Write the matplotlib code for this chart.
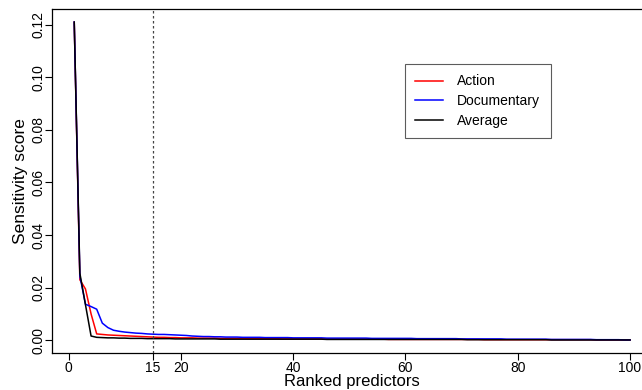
import numpy as np
import matplotlib
matplotlib.use("Agg")
import matplotlib.pyplot as plt

plt.rcParams['font.family'] = ['Liberation Sans', 'DejaVu Sans']

# sensitivity scores of the 100 ranked predictors
rank = list(range(1, 101))
action = [0.121, 0.023, 0.0195, 0.0100, 0.0024, 0.0022, 0.0020, 0.0019, 0.0018, 0.0017,
          0.0016, 0.0015, 0.0014, 0.0013, 0.0012, 0.0011, 0.0011, 0.0010, 0.0010, 0.0009,
          0.0009, 0.0009, 0.0008, 0.0008, 0.0008, 0.0008, 0.0007, 0.0007, 0.0007, 0.0007,
          0.0007, 0.0006, 0.0006, 0.0006, 0.0006, 0.0006, 0.0006, 0.0005, 0.0005, 0.0005,
          0.0005, 0.0005, 0.0005, 0.0005, 0.0005, 0.0004, 0.0004, 0.0004, 0.0004, 0.0004,
          0.0004, 0.0004, 0.0004, 0.0004, 0.0004, 0.0004, 0.0003, 0.0003, 0.0003, 0.0003,
          0.0003, 0.0003, 0.0003, 0.0003, 0.0003, 0.0003, 0.0003, 0.0003, 0.0003, 0.0003,
          0.0003, 0.0003, 0.0003, 0.0002, 0.0002, 0.0002, 0.0002, 0.0002, 0.0002, 0.0002,
          0.0002, 0.0002, 0.0002, 0.0002, 0.0002, 0.0002, 0.0002, 0.0002, 0.0002, 0.0002,
          0.0002, 0.0002, 0.0002, 0.0001, 0.0001, 0.0001, 0.0001, 0.0001, 0.0001, 0.0001]
documentary = [0.121, 0.0245, 0.0137, 0.0128, 0.0118, 0.0065, 0.0048, 0.0038, 0.0034, 0.0031,
               0.0029, 0.0027, 0.0026, 0.0024, 0.0023, 0.0022, 0.0022, 0.0021, 0.0020, 0.0019,
               0.0018, 0.0016, 0.0015, 0.0014, 0.0014, 0.0013, 0.0013, 0.0012, 0.0012, 0.0012,
               0.0011, 0.0011, 0.0011, 0.0011, 0.0010, 0.0010, 0.0010, 0.0010, 0.0010, 0.0009,
               0.0009, 0.0009, 0.0009, 0.0009, 0.0009, 0.0008, 0.0008, 0.0008, 0.0008, 0.0008,
               0.0008, 0.0008, 0.0008, 0.0007, 0.0007, 0.0007, 0.0007, 0.0007, 0.0007, 0.0007,
               0.0007, 0.0006, 0.0006, 0.0006, 0.0006, 0.0006, 0.0006, 0.0006, 0.0006, 0.0005,
               0.0005, 0.0005, 0.0005, 0.0005, 0.0005, 0.0005, 0.0005, 0.0004, 0.0004, 0.0004,
               0.0004, 0.0004, 0.0004, 0.0004, 0.0004, 0.0003, 0.0003, 0.0003, 0.0003, 0.0003,
               0.0003, 0.0003, 0.0003, 0.0002, 0.0002, 0.0002, 0.0002, 0.0002, 0.0001, 0.0001]
average = [0.121, 0.0255, 0.0135, 0.0016, 0.0011, 0.0010, 0.0009, 0.0009, 0.0008, 0.0008,
           0.0007, 0.0007, 0.0007, 0.0006, 0.0006, 0.0006, 0.0006, 0.0006, 0.0005, 0.0005,
           0.0005, 0.0005, 0.0005, 0.0005, 0.0005, 0.0005, 0.0004, 0.0004, 0.0004, 0.0004,
           0.0004, 0.0004, 0.0004, 0.0004, 0.0004, 0.0004, 0.0004, 0.0004, 0.0004, 0.0004,
           0.0004, 0.0004, 0.0004, 0.0004, 0.0004, 0.0003, 0.0003, 0.0003, 0.0003, 0.0003,
           0.0003, 0.0003, 0.0003, 0.0003, 0.0003, 0.0003, 0.0003, 0.0003, 0.0003, 0.0003,
           0.0003, 0.0003, 0.0003, 0.0003, 0.0003, 0.0003, 0.0003, 0.0003, 0.0003, 0.0003,
           0.0002, 0.0002, 0.0002, 0.0002, 0.0002, 0.0002, 0.0002, 0.0002, 0.0002, 0.0002,
           0.0002, 0.0002, 0.0002, 0.0002, 0.0002, 0.0001, 0.0001, 0.0001, 0.0001, 0.0001,
           0.0001, 0.0001, 0.0001, 0.0001, 0.0001, 0.0001, 0.0001, 0.0001, 0.0001, 0.0001]
cutoff = 15
xticks = [0, 15, 20, 40, 60, 80, 100]
yticks = [0.00, 0.02, 0.04, 0.06, 0.08, 0.10, 0.12]

fig = plt.figure(figsize=(6.42, 3.90), dpi=100)
# R-style box; right edge of the original plot was cropped off
ax = fig.add_axes([0.081, 0.095, 0.935, 0.881])

ax.plot(rank, action, color='red', lw=1.1, label='Action')
ax.plot(rank, documentary, color='blue', lw=1.1, label='Documentary')
ax.plot(rank, average, color='black', lw=1.1, label='Average')
ax.axvline(cutoff, color='#444444', lw=0.9, ls=(0, (2, 2)))

ax.set_xlim(1 - 0.04 * 99, 100 + 0.04 * 99)
ax.set_ylim(-0.04 * 0.121, 0.121 * 1.04)

ax.set_xticks(xticks)
ax.set_xticklabels([str(t) for t in xticks])
ax.set_yticks(yticks)
ax.set_yticklabels(['%.2f' % t for t in yticks], rotation=90, va='center')
ax.tick_params(direction='out', length=5, width=0.8, labelsize=10)
ax.tick_params(axis='x', pad=1.0)
ax.tick_params(axis='y', pad=0)
for s in ax.spines.values():
    s.set_linewidth(0.9)

ax.set_xlabel('Ranked predictors', fontsize=12, labelpad=-1)
ax.set_ylabel('Sensitivity score', fontsize=12.5, labelpad=2)

leg = ax.legend(loc='upper left', bbox_to_anchor=(405 / 642, 1 - 64 / 390),
                bbox_transform=fig.transFigure, fontsize=10, frameon=True,
                fancybox=False, edgecolor='#333333', handlelength=2.0,
                handletextpad=1.0, borderpad=0.75, labelspacing=0.4,
                borderaxespad=0)
leg.get_frame().set_linewidth(0.8)

fig.savefig('out.png', dpi=100)
